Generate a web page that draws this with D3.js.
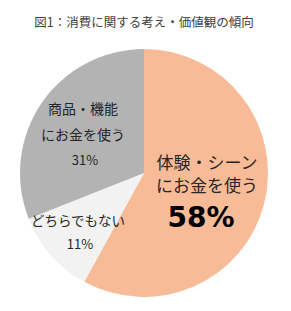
<!DOCTYPE html>
<html>
<head>
<meta charset="utf-8">
<script src="https://cdn.jsdelivr.net/npm/d3@7"></script>
<style>
  html, body { margin: 0; padding: 0; background: #fff; }
  text { font-family: "Noto Sans CJK JP", "Noto Sans", sans-serif; }
</style>
</head>
<body>
<div id="chart"></div>
<script>
// chart data
const title = '図1：消費に関する考え・価値観の傾向';
const categories = ['体験・シーンにお金を使う', 'どちらでもない', '商品・機能にお金を使う'];
const values = [58, 11, 31];
const sliceColors = ['#f8bb98', '#f2f2f2', '#b3b3b3'];

// label lines per slice
const labelLines = [['体験・シーン', 'にお金を使う'], ['どちらでもない'], ['商品・機能', 'にお金を使う']];

const width = 291, height = 311;
const cx = 144, cy = 173, radius = 124;

const svg = d3.select('#chart').append('svg')
    .attr('width', width)
    .attr('height', height);

svg.append('text')
    .attr('x', 144)
    .attr('y', 27)
    .attr('text-anchor', 'middle')
    .attr('font-size', 12.5)
    .attr('fill', '#404040')
    .text(title);

const data = categories.map((c, i) => ({ name: c, value: values[i], color: sliceColors[i], lines: labelLines[i] }));

const pie = d3.pie().sort(null).value(d => d.value);
const arc = d3.arc().innerRadius(0).outerRadius(radius);

const g = svg.append('g').attr('transform', 'translate(' + cx + ',' + cy + ')');

const arcs = pie(data);

g.selectAll('path')
    .data(arcs)
    .join('path')
    .attr('d', arc)
    .attr('fill', d => d.data.color);

// label styles per slice
const labelSpecs = [
  { size: 17, lineGap: 23, pctSize: 28, pctBold: true, pctGap: 35, pctDx: -6, pctFont: '"DejaVu Sans", sans-serif' },
  { size: 13.5, lineGap: 23, pctSize: 13, pctBold: false, pctGap: 23, pctDx: 2, pctFont: null },
  { size: 14, lineGap: 26, pctSize: 13, pctBold: false, pctGap: 25, pctDx: 2, pctFont: null }
];
const labelAnchors = [[63, -4], [-66, 53], [-61, -59]];

arcs.forEach((a, i) => {
  const s = labelSpecs[i];
  const [lx, ly] = labelAnchors[i];
  const lg = g.append('g').attr('transform', 'translate(' + lx + ',' + ly + ')');
  a.data.lines.forEach((line, j) => {
    lg.append('text')
        .attr('x', 0)
        .attr('y', j * s.lineGap)
        .attr('text-anchor', 'middle')
        .attr('font-size', s.size)
        .attr('fill', '#262626')
        .text(line);
  });
  const lastY = (a.data.lines.length - 1) * s.lineGap;
  const pct = lg.append('text')
      .attr('x', s.pctDx)
      .attr('y', lastY + s.pctGap)
      .attr('text-anchor', 'middle')
      .attr('font-size', s.pctSize)
      .attr('font-weight', s.pctBold ? 'bold' : 'normal')
      .attr('fill', i === 0 ? '#000' : '#262626')
      .text(a.data.value + '%');
  if (s.pctFont) pct.style('font-family', s.pctFont);
});
</script>
</body>
</html>
